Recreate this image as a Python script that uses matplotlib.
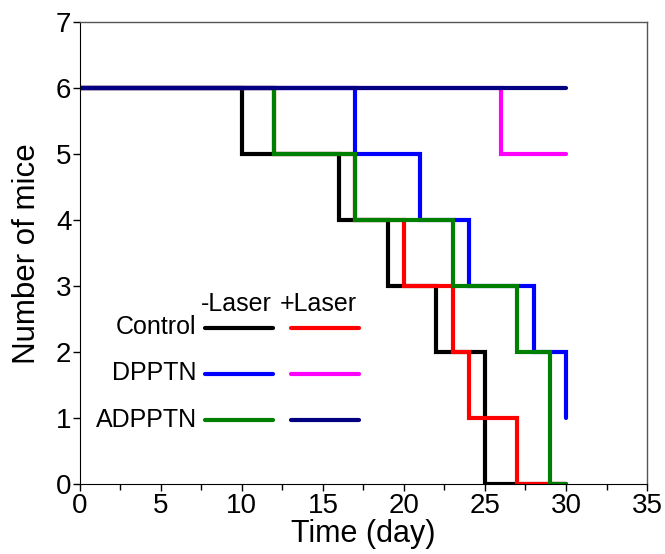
import matplotlib.pyplot as plt

plt.rcParams['font.family'] = ['Liberation Sans', 'DejaVu Sans']

# survival steps (day, mice remaining), drawn as post steps
ctrl_t = [0, 10, 16, 19, 22, 25, 30]
ctrl_n = [6, 5, 4, 3, 2, 0, 0]
ctrl_laser_t = [0, 12, 17, 20, 23, 24, 27, 30]
ctrl_laser_n = [6, 5, 4, 3, 2, 1, 0, 0]
dpptn_t = [0, 17, 21, 24, 28, 30, 30]
dpptn_n = [6, 5, 4, 3, 2, 1, 1]
dpptn_laser_t = [0, 26, 30]
dpptn_laser_n = [6, 5, 5]
adpptn_t = [0, 12, 17, 23, 27, 29, 30]
adpptn_n = [6, 5, 4, 3, 2, 0, 0]
adpptn_laser_t = [0, 30]
adpptn_laser_n = [6, 6]

groups = ['Control', 'DPPTN', 'ADPPTN']
c_minus = ['#000000', '#0000ff', '#007f00']
c_plus = ['#ff0000', '#ff00ff', '#000080']

fig = plt.figure(figsize=(6.65, 5.54), dpi=100)
ax = fig.add_axes([0.120, 0.126, 0.853, 0.834])

lw = 3.0
kw = dict(drawstyle='steps-post', lw=lw, solid_joinstyle='miter', solid_capstyle='round')
ax.plot(ctrl_t, ctrl_n, color=c_minus[0], **kw)
ax.plot(ctrl_laser_t, ctrl_laser_n, color=c_plus[0], **kw)
ax.plot(dpptn_t, dpptn_n, color=c_minus[1], **kw)
ax.plot(dpptn_laser_t, dpptn_laser_n, color=c_plus[1], **kw)
ax.plot(adpptn_t, adpptn_n, color=c_minus[2], **kw)
ax.plot(adpptn_laser_t, adpptn_laser_n, color=c_plus[2], **kw)

# hand-made legend
rows = [0.338, 0.239, 0.140]
base = [0.324, 0.225, 0.124]
for g, y, yb, cm, cp in zip(groups, rows, base, c_minus, c_plus):
    ax.text(0.206, yb, g, transform=ax.transAxes, ha='right', va='baseline', fontsize=18)
    ax.plot([0.221, 0.340], [y, y], color=cm, lw=lw, transform=ax.transAxes,
            solid_capstyle='round')
    ax.plot([0.373, 0.492], [y, y], color=cp, lw=lw, transform=ax.transAxes,
            solid_capstyle='round')
ax.text(0.276, 0.375, '-Laser', transform=ax.transAxes, ha='center', va='baseline', fontsize=18)
ax.text(0.420, 0.375, '+Laser', transform=ax.transAxes, ha='center', va='baseline', fontsize=18)

ax.set_xlim(0, 35)
ax.set_ylim(0, 7)
ax.set_xticks(range(0, 36, 5))
ax.set_xticks([2.5 + 5 * i for i in range(7)], minor=True)
ax.set_yticks(range(0, 8))
ax.tick_params(axis='both', which='major', labelsize=20, length=5, width=1, pad=1)
ax.tick_params(axis='x', which='minor', length=4, width=1)
ax.set_xlabel('Time (day)', fontsize=22, labelpad=0)
ax.set_ylabel('Number of mice', fontsize=22.5, labelpad=10)
for s in ['top', 'right']:
    ax.spines[s].set_color('#555555')
    ax.spines[s].set_linewidth(1)

plt.savefig('out.png', dpi=100)
